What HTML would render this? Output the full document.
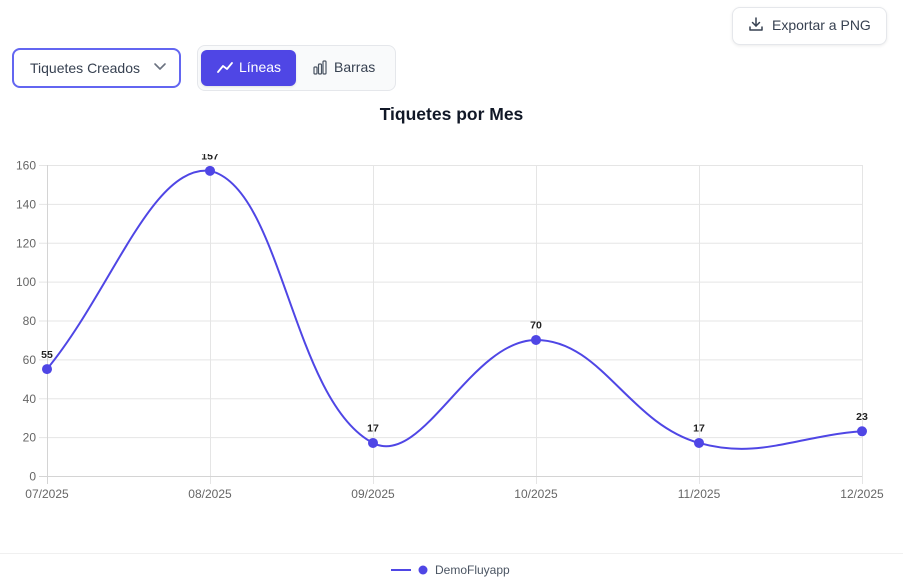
<!DOCTYPE html>
<html><head><meta charset="utf-8"><style>
html,body{margin:0;padding:0;background:#fff;}
body{width:903px;height:588px;position:relative;overflow:hidden;font-family:"Liberation Sans",Arial,sans-serif;}
.abs{position:absolute;box-sizing:border-box;}
.dd{left:12px;top:48px;width:169px;height:40px;border:2px solid #6366f1;border-radius:8px;background:#fff;}
.dd span{position:absolute;left:16px;top:10px;font-size:14px;color:#374151;}
.grp{left:197px;top:45px;width:199px;height:46px;border:1px solid #e5e7eb;border-radius:8px;background:#f9fafb;}
.act{left:201px;top:50px;width:95px;height:36px;border-radius:6px;background:#4f46e5;box-shadow:0 1px 2px rgba(0,0,0,.1);}
.exp{left:732px;top:7px;width:155px;height:38px;border:1px solid #e5e7eb;border-radius:8px;background:#fff;box-shadow:0 1px 3px rgba(0,0,0,.08);}
.t{position:absolute;font-size:14px;white-space:nowrap;}
</style></head><body>
<div class="abs dd"><span>Tiquetes Creados</span></div>
<div class="abs grp"></div>
<div class="abs act"></div>
<div class="abs exp"></div>
<div class="t" style="left:239px;top:59px;color:#fff;">Líneas</div>
<div class="t" style="left:334px;top:59px;color:#374151;">Barras</div>
<div class="t" style="left:772px;top:17px;color:#374151;">Exportar a PNG</div>
<div class="t" style="left:0;width:903px;top:104px;text-align:center;font-size:17.5px;font-weight:bold;color:#111827;">Tiquetes por Mes</div>
<svg class="abs" style="left:0;top:0" width="903" height="588" viewBox="0 0 903 588">
<defs><clipPath id="c"><rect x="0" y="154" width="903" height="434"/></clipPath></defs>
<!-- icons -->
<polyline points="155,64 160,69 165,64" fill="none" stroke="#6b7280" stroke-width="1.6" stroke-linecap="round" stroke-linejoin="round"/>
<polyline points="218,72 223,66 227,69 232,63" fill="none" stroke="#fff" stroke-width="1.8" stroke-linecap="round" stroke-linejoin="round"/>
<g fill="none" stroke="#4b5563" stroke-width="1.2">
<rect x="314" y="67" width="3" height="7" rx="1"/><rect x="318.5" y="64" width="3" height="10" rx="1"/><rect x="323" y="61" width="3" height="13" rx="1"/>
</g>
<g fill="none" stroke="#374151" stroke-width="1.5" stroke-linecap="round" stroke-linejoin="round">
<line x1="756" y1="18" x2="756" y2="26"/><polyline points="752.5,22.5 756,26 759.5,22.5"/><polyline points="750,27 750,30 762,30 762,27"/>
</g>
<!-- grid -->
<g stroke="#e5e5e5" stroke-width="1">
<line x1="39" y1="165.5" x2="862" y2="165.5"/>
<line x1="39" y1="204.4" x2="862" y2="204.4"/>
<line x1="39" y1="243.3" x2="862" y2="243.3"/>
<line x1="39" y1="282.1" x2="862" y2="282.1"/>
<line x1="39" y1="321" x2="862" y2="321"/>
<line x1="39" y1="359.9" x2="862" y2="359.9"/>
<line x1="39" y1="398.8" x2="862" y2="398.8"/>
<line x1="39" y1="437.6" x2="862" y2="437.6"/>
<line x1="210.5" y1="165" x2="210.5" y2="484"/>
<line x1="373.5" y1="165" x2="373.5" y2="484"/>
<line x1="536.5" y1="165" x2="536.5" y2="484"/>
<line x1="699.5" y1="165" x2="699.5" y2="484"/>
<line x1="862.5" y1="165" x2="862.5" y2="484"/>
</g>
<g stroke="#d4d4d4" stroke-width="1">
<line x1="47.5" y1="165" x2="47.5" y2="484"/>
<line x1="39" y1="476.5" x2="862" y2="476.5"/>
</g>
<g font-family="Liberation Sans, Arial, sans-serif" font-size="12" fill="#666" text-anchor="end">
<text x="36" y="169.5">160</text><text x="36" y="208.5">140</text><text x="36" y="247.5">120</text>
<text x="36" y="286">100</text><text x="36" y="325">80</text><text x="36" y="364">60</text>
<text x="36" y="403">40</text><text x="36" y="441.5">20</text><text x="36" y="480.5">0</text>
</g>
<g font-family="Liberation Sans, Arial, sans-serif" font-size="12" fill="#666" text-anchor="middle">
<text x="47" y="498">07/2025</text><text x="210" y="498">08/2025</text><text x="373" y="498">09/2025</text>
<text x="536" y="498">10/2025</text><text x="699" y="498">11/2025</text><text x="862" y="498">12/2025</text>
</g>
<path d="M47,369.09 C112.2,289.79 151.68,165 210,170.83 C282.08,187.16 291.9,400.89 373,442.96 C422.3,468.53 470.8,339.94 536,339.94 C601.2,339.94 628.42,423.18 699,442.96 C758.82,459.72 796.8,435.96 862,431.29" fill="none" stroke="#4f46e5" stroke-width="2"/>
<g fill="#4f46e5">
<circle cx="47" cy="369.09" r="5"/><circle cx="210" cy="170.83" r="5"/><circle cx="373" cy="442.96" r="5"/>
<circle cx="536" cy="339.94" r="5"/><circle cx="699" cy="442.96" r="5"/><circle cx="862" cy="431.29" r="5"/>
</g>
<g font-family="Liberation Sans, Arial, sans-serif" font-size="10.5" font-weight="bold" fill="#222" text-anchor="middle" clip-path="url(#c)">
<text x="47" y="358">55</text><text x="210" y="159.5">157</text><text x="373" y="431.5">17</text>
<text x="536" y="328.5">70</text><text x="699" y="431.5">17</text><text x="862" y="420">23</text>
</g>
<line x1="0" y1="553.5" x2="903" y2="553.5" stroke="#f0f0f0" stroke-width="1"/>
<line x1="391" y1="570" x2="411" y2="570" stroke="#4f46e5" stroke-width="2"/>
<circle cx="423" cy="570" r="4.5" fill="#4f46e5"/>
<text x="435" y="574" font-family="Liberation Sans, Arial, sans-serif" font-size="12" fill="#4b5563">DemoFluyapp</text>
</svg>
</body></html>
